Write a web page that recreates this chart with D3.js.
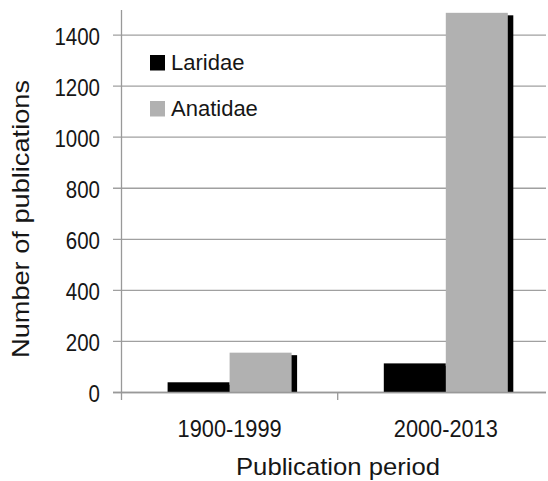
<!DOCTYPE html>
<html><head><meta charset="utf-8">
<script src="https://cdn.jsdelivr.net/npm/d3@7"></script>
<style>body{margin:0;background:#fff}text{font-family:"Liberation Sans",Arial,sans-serif;fill:#161616}</style>
</head><body><svg id="c" width="548" height="481"></svg>
<script>
const categories = ["1900-1999", "2000-2013"];
const seriesNames = ["Laridae", "Anatidae"];
const laridae = [40, 114];
const anatidae = [156, 1487];
const yTicks = [0, 200, 400, 600, 800, 1000, 1200, 1400];
const colors = {"Laridae": "#000000", "Anatidae": "#b1b1b1"};

(function () {
const svg = d3.select("#c");
const pL = 121.5, pR = 553.9, pT = 9.5, pB = 392.5;
const groupW = 124;
const x = d3.scaleBand().domain(categories).range([pL, pR]);
const xs = d3.scaleBand().domain(seriesNames).range([0, groupW]);
const y = d3.scaleLinear().domain([0, 1500]).range([pB, pT]);
const gridColor = "#a0a0a0", axisColor = "#999";

// gridlines
svg.append("g").selectAll("line").data(yTicks).join("line")
  .attr("x1", 113).attr("x2", 546).attr("y1", d => y(d)).attr("y2", d => y(d))
  .attr("stroke", gridColor).attr("stroke-width", 1.3);

// y tick labels
svg.append("g").selectAll("text").data(yTicks).join("text")
  .attr("x", 100).attr("y", d => y(d) + 9.5).attr("text-anchor", "end")
  .attr("font-size", 24)
  .attr("textLength", d => String(d).length * 11.4).attr("lengthAdjust", "spacingAndGlyphs")
  .text(d => d);

// bars
const data = [];
categories.forEach((c, i) => {
  data.push({c, s: "Laridae", v: laridae[i]});
  data.push({c, s: "Anatidae", v: anatidae[i]});
});
const bw = xs.bandwidth();
const gx = c => x(c) + (x.bandwidth() - groupW) / 2;
// shadows
svg.append("g").selectAll("rect").data(data).join("rect")
  .attr("x", d => gx(d.c) + xs(d.s) + 5.5).attr("y", d => y(d.v) + 2.5)
  .attr("width", bw).attr("height", d => pB - y(d.v) - 2.5)
  .attr("fill", "#000");
svg.append("g").selectAll("rect").data(data).join("rect")
  .attr("x", d => gx(d.c) + xs(d.s)).attr("y", d => y(d.v))
  .attr("width", bw).attr("height", d => pB - y(d.v))
  .attr("fill", d => colors[d.s]);

// axes lines
svg.append("line").attr("x1", pL).attr("x2", pL).attr("y1", 10).attr("y2", 400)
  .attr("stroke", axisColor).attr("stroke-width", 1.3);
svg.append("line").attr("x1", 113).attr("x2", 546).attr("y1", pB).attr("y2", pB)
  .attr("stroke", axisColor).attr("stroke-width", 1.3);
svg.append("line").attr("x1", x(categories[1])).attr("x2", x(categories[1])).attr("y1", pB).attr("y2", 400)
  .attr("stroke", axisColor).attr("stroke-width", 1.3);

// category labels
svg.append("g").selectAll("text").data(categories).join("text")
  .attr("x", d => x(d) + x.bandwidth() / 2).attr("y", 437).attr("text-anchor", "middle")
  .attr("font-size", 24).attr("textLength", 104).attr("lengthAdjust", "spacingAndGlyphs")
  .text(d => d);

// titles
svg.append("text").attr("x", 338).attr("y", 475).attr("text-anchor", "middle")
  .attr("font-size", 24).attr("textLength", 204).attr("lengthAdjust", "spacingAndGlyphs")
  .text("Publication period");
svg.append("text").attr("transform", "translate(29,219) rotate(-90)").attr("text-anchor", "middle")
  .attr("font-size", 24).attr("textLength", 278).attr("lengthAdjust", "spacingAndGlyphs")
  .text("Number of publications");

// legend
const lg = svg.append("g");
seriesNames.forEach((s, i) => {
  lg.append("rect").attr("x", 150).attr("y", 55 + i * 46).attr("width", 15).attr("height", 15.5)
    .attr("fill", colors[s]);
  lg.append("text").attr("x", 171).attr("y", 70 + i * 46).attr("font-size", 22).text(s);
});
})();
</script></body></html>
